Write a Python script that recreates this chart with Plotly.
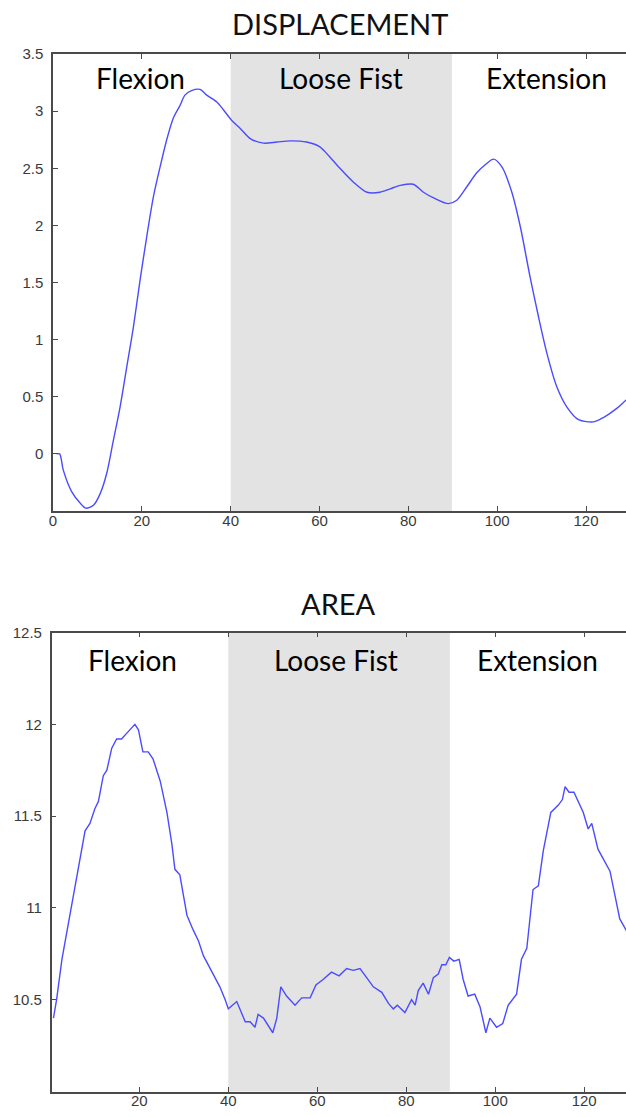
import plotly.graph_objects as go

# ---------------- data ----------------
disp_x = [0.8, 1.5, 2.3, 4.2, 6.1, 7.4, 9.1, 10.6, 12.1, 13.6, 15.1, 16.6, 18.1, 19.6, 21.1, 22.6,
          24.1, 25.6, 27.1, 28.6, 29.7, 31.2, 33.1, 34.6, 36.9, 38.4, 40.2, 42.1, 44.4, 47.4,
          50.4, 53.4, 57.1, 60.0, 61.6, 64.6, 67.6, 70.7, 73.6, 75.9, 78.2, 81.1, 83.4, 85.7,
          89.0, 90.9, 93.2, 95.4, 97.3, 99.2, 101.1, 103.3, 105.2, 107.4, 109.3, 111.2, 113.4,
          115.7, 118.3, 121.7, 124.0, 127.0, 129.0, 130.0]
disp_y = [0.0, 0.0, -0.14, -0.33, -0.43, -0.475, -0.45, -0.35, -0.17, 0.12, 0.41, 0.76, 1.11, 1.52,
          1.90, 2.25, 2.51, 2.75, 2.94, 3.05, 3.14, 3.18, 3.19, 3.14, 3.08, 3.01, 2.92, 2.85, 2.76,
          2.72, 2.73, 2.74, 2.73, 2.69, 2.63, 2.50, 2.38, 2.29, 2.29, 2.32, 2.35, 2.36, 2.29, 2.24,
          2.19, 2.22, 2.34, 2.46, 2.53, 2.58, 2.51, 2.29, 1.99, 1.55, 1.20, 0.88, 0.59, 0.41, 0.30,
          0.28, 0.32, 0.40, 0.47, 0.50]

area_x = [0.7, 1.4, 2.6, 3.7, 4.8, 5.9, 6.7, 7.8, 8.9, 10.0, 10.8, 11.9, 12.7, 13.8, 14.9, 16.0,
          17.5, 19.0, 19.8, 20.8, 22.0, 23.1, 24.7, 26.2, 27.3, 28.0, 29.1, 30.7, 32.1, 33.3,
          34.4, 35.5, 36.6, 38.1, 39.3, 40.0, 41.9, 43.8, 44.9, 46.0, 46.7, 47.9, 50.0, 50.9,
          51.8, 53.1, 55.0, 56.5, 58.4, 59.7, 61.3, 63.2, 64.9, 66.6, 68.1, 69.6, 71.1, 72.6,
          74.5, 76.0, 77.1, 78.0, 79.7, 81.2, 82.0, 82.7, 83.8, 85.0, 86.1, 87.2, 88.0, 88.9,
          89.7, 90.7, 91.9, 92.8, 93.9, 95.4, 96.6, 97.9, 98.8, 100.3, 101.7, 102.9, 104.8,
          105.9, 107.1, 108.5, 109.7, 110.8, 112.5, 114.2, 115.1, 115.7, 116.6, 117.7, 119.8,
          120.9, 121.7, 123.1, 125.8, 128.0, 129.4, 130.0]
area_y = [10.40, 10.50, 10.72, 10.87, 11.00, 11.16, 11.26, 11.42, 11.46, 11.54, 11.58, 11.72,
          11.75, 11.87, 11.92, 11.92, 11.96, 12.00, 11.97, 11.85, 11.85, 11.81, 11.69, 11.52,
          11.35, 11.21, 11.18, 10.96, 10.88, 10.82, 10.74, 10.69, 10.64, 10.57, 10.50, 10.45,
          10.49, 10.38, 10.38, 10.35, 10.42, 10.40, 10.32, 10.40, 10.57, 10.52, 10.47, 10.51,
          10.51, 10.58, 10.61, 10.65, 10.63, 10.67, 10.66, 10.67, 10.62, 10.57, 10.54, 10.48,
          10.45, 10.47, 10.43, 10.50, 10.47, 10.55, 10.59, 10.53, 10.62, 10.64, 10.69, 10.69,
          10.73, 10.71, 10.72, 10.61, 10.52, 10.53, 10.46, 10.32, 10.40, 10.35, 10.37, 10.47,
          10.53, 10.72, 10.78, 11.10, 11.12, 11.31, 11.52, 11.56, 11.59, 11.66, 11.63, 11.63,
          11.52, 11.43, 11.46, 11.32, 11.20, 10.94, 10.88, 10.85]

phase_names = ["Flexion", "Loose Fist", "Extension"]
phase_x_top = [19.6, 64.9, 111.0]
phase_x_bot = [18.5, 64.2, 109.6]
shade_range = [40, 89.8]

titles = ["DISPLACEMENT", "AREA"]
top_ticks = [0, 20, 40, 60, 80, 100, 120]
top_yticks = [0, 0.5, 1, 1.5, 2, 2.5, 3, 3.5]
bot_ticks = [20, 40, 60, 80, 100, 120]
bot_yticks = [10.5, 11, 11.5, 12, 12.5]

# ---------------- figure ----------------
W, H = 626, 1117
LINE = "#4b4bff"
AX = "#4a4a4a"
TICKFONT = dict(family="Liberation Sans, Arial, sans-serif", size=15, color="#3a3a3a")
LABELFONT = dict(family="Lato, sans-serif", size=28, color="#000000")
TITLEFONT = dict(family="Lato, sans-serif", size=29, color="#111111")

fig = go.Figure()
fig.add_trace(go.Scatter(x=disp_x, y=disp_y, mode="lines",
                         line=dict(color=LINE, width=1.4, shape="spline", smoothing=0.8),
                         xaxis="x", yaxis="y", showlegend=False, hoverinfo="skip"))
fig.add_trace(go.Scatter(x=area_x, y=area_y, mode="lines", line=dict(color=LINE, width=1.4),
                         xaxis="x2", yaxis="y2", showlegend=False, hoverinfo="skip"))

common_x = dict(showgrid=False, zeroline=False, showline=True, linecolor=AX, linewidth=1.5,
                mirror="ticks", ticks="inside", ticklen=5, tickcolor=AX, tickwidth=1,
                tickfont=TICKFONT, automargin=False)
common_y = dict(showgrid=False, zeroline=False, showline=True, linecolor=AX, linewidth=1.5,
                mirror=False, ticks="inside", ticklen=5, tickcolor=AX, tickwidth=1,
                tickfont=TICKFONT, automargin=False, ticklabelstandoff=5)

fig.update_layout(
    width=W, height=H, margin=dict(l=0, r=0, t=0, b=0),
    paper_bgcolor="white", plot_bgcolor="white",
    xaxis=dict(domain=[53 / W, 1], range=[0, 129], tickvals=top_ticks, anchor="y",
               ticklabelstandoff=-5, **common_x),
    yaxis=dict(domain=[1 - 511 / H, 1 - 54 / H], range=[-0.5, 3.5], tickvals=top_yticks,
               anchor="x", **common_y),
    xaxis2=dict(domain=[51.7 / W, 1], range=[0.3, 129.4], tickvals=bot_ticks, anchor="y2",
                ticklabelstandoff=-5, **common_x),
    yaxis2=dict(domain=[1 - 1091.5 / H, 1 - 632.5 / H], range=[10, 12.5], tickvals=bot_yticks,
                anchor="x2", **common_y),
)

# shaded "Loose Fist" bands
for xr, yr in (("x", "y domain"), ("x2", "y2 domain")):
    fig.add_shape(type="rect", xref=xr, yref=yr, x0=shade_range[0], x1=shade_range[1],
                  y0=0, y1=1, fillcolor="#e3e3e3", line=dict(width=0), layer="below")

# phase labels
for name, xv in zip(phase_names, phase_x_top):
    fig.add_annotation(x=xv, y=3.29, xref="x", yref="y", text=name, showarrow=False,
                       font=LABELFONT, xanchor="center", yanchor="middle")
for name, xv in zip(phase_names, phase_x_bot):
    fig.add_annotation(x=xv, y=12.35, xref="x2", yref="y2", text=name, showarrow=False,
                       font=LABELFONT, xanchor="center", yanchor="middle")

# titles
fig.add_annotation(x=0.5, y=1, xref="x domain", yref="y domain", text=titles[0],
                   showarrow=False, font=TITLEFONT, xanchor="center", yanchor="middle", yshift=31)
fig.add_annotation(x=0.5, y=1, xref="x2 domain", yref="y2 domain", text=titles[1],
                   showarrow=False, font=TITLEFONT, xanchor="center", yanchor="middle", yshift=29)

fig.write_html(
    "out.html",
    config={"displayModeBar": False},
    post_script="document.body.style.margin='0';document.body.style.overflow='hidden';",
)
